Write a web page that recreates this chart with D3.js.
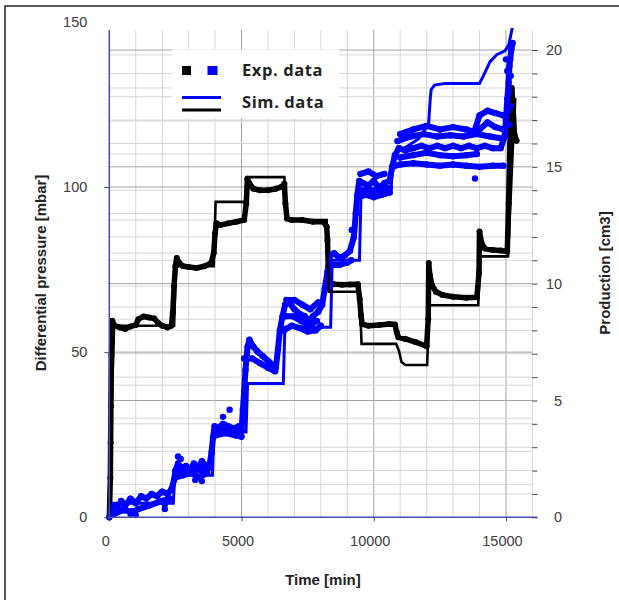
<!DOCTYPE html>
<html>
<head>
<meta charset="utf-8">
<script src="https://cdn.jsdelivr.net/npm/d3@7"></script>
<style>
  body { margin: 0; background: #fff; }
</style>
</head>
<body>
<div id="chart"></div>
<script>
// tick labels
const timeTicks = [0, 5000, 10000, 15000];
const pressureTicks = [0, 50, 100, 150];
const productionTicks = [0, 5, 10, 15, 20];

// simulated differential pressure [time, mbar]
const pressureSim = [
  [0, 0], [80, 30], [180, 58], [2450, 58], [2520, 76], [3950, 76], [4020, 95.5], [5150, 95.5],
  [5220, 103], [6620, 103], [6700, 90], [8220, 90], [8300, 68.3], [9460, 68.3], [9540, 52.5],
  [10850, 52.5], [10950, 50.5], [11050, 47], [11200, 46.1], [12020, 46.1], [12100, 64.2],
  [13950, 64.2], [14030, 79], [15080, 79], [15250, 110], [15350, 127]
];

// measured differential pressure [time, mbar]
const pressureExp = [
  [0, 0], [40, 12], [50, 22.6], [60, 33.7], [80, 49], [110, 59.5], [200, 58], [400, 57.5],
  [600, 57], [800, 57.8], [1000, 58.2], [1100, 60], [1300, 60.8], [1500, 60.5], [1700, 60.2],
  [1850, 58.8], [2000, 58], [2200, 57.5], [2350, 58], [2400, 62], [2450, 70], [2500, 76],
  [2550, 78.5], [2650, 77], [2800, 76], [3000, 75.8], [3300, 75.5], [3600, 76], [3850, 77],
  [3950, 80], [4000, 86], [4050, 89], [4200, 88.5], [4500, 89], [4800, 89.5], [5100, 90],
  [5180, 95], [5220, 102.5], [5300, 101], [5450, 99.5], [5700, 99], [6000, 99], [6300, 99.5],
  [6500, 100], [6620, 101], [6660, 95], [6720, 90.5], [6900, 90], [7300, 90], [7700, 89.5],
  [8100, 89.5], [8220, 88], [8250, 84], [8280, 76], [8320, 71], [8500, 70.6], [8800, 70.4],
  [9100, 70.5], [9400, 70.6], [9470, 66], [9520, 61], [9560, 58.5], [9800, 58], [10200, 58.2],
  [10600, 58.5], [10800, 58.4], [10870, 56], [10930, 54.5], [11200, 54], [11600, 53],
  [12000, 51.8], [12060, 60], [12080, 77], [12120, 73.4], [12200, 70.3], [12350, 68.3],
  [12600, 67.3], [13000, 66.8], [13500, 66.5], [13900, 66.6], [13980, 74], [14000, 86.5],
  [14080, 83], [14200, 81.4], [14500, 80.9], [14800, 80.8], [15050, 80.5], [15100, 95],
  [15150, 113], [15220, 130], [15270, 124], [15320, 116], [15400, 114]
];

// simulated production [time, cm3]
const productionSim = [
  [0, 0], [60, 0.3], [150, 0.6], [2420, 0.6], [2480, 1.8], [3900, 1.8], [3960, 3.65],
  [5170, 3.65], [5230, 5.73], [6580, 5.73], [6640, 8.13], [8370, 8.13], [8430, 11.0],
  [9460, 11.0], [9520, 13.87], [10650, 13.87], [10720, 15.3], [10900, 15.65], [11300, 15.9],
  [11700, 16.2], [12000, 16.7], [12080, 16.9], [12130, 17.8], [12170, 18.3], [12300, 18.5],
  [12700, 18.57], [14000, 18.57], [14150, 18.9], [14400, 19.5], [14650, 19.8], [14950, 19.95],
  [15100, 20.2], [15250, 21.0]
];

// measured production [time, cm3]
const productionExp = [
  [0, 0], [60, 0.3], [150, 0.5], [300, 0.4], [450, 0.7], [600, 0.5], [800, 0.8], [1000, 0.6],
  [1200, 0.9], [1400, 0.8], [1600, 1.0], [1800, 0.9], [2000, 1.1], [2200, 1.0], [2350, 1.2],
  [2450, 1.6], [2500, 2.0], [2600, 2.3], [2750, 2.1], [2900, 2.2], [3050, 2.0], [3200, 2.3],
  [3350, 2.1], [3500, 2.4], [3650, 2.2], [3800, 2.3], [3870, 2.8], [3920, 3.4], [3980, 3.9],
  [4100, 3.8], [4300, 4.0], [4500, 3.9], [4700, 3.8], [4900, 3.9], [5000, 3.7], [5050, 4.6],
  [5100, 5.4], [5150, 6.3], [5230, 7.3], [5300, 7.6], [5450, 7.3], [5600, 7.1], [5800, 6.9],
  [6000, 6.7], [6200, 6.5], [6300, 6.4], [6380, 7.2], [6450, 8.0], [6550, 8.6], [6650, 9.1],
  [6800, 9.2], [7000, 8.9], [7200, 8.7], [7400, 8.6], [7550, 8.4], [7700, 8.6], [7900, 8.8],
  [8050, 9.1], [8150, 9.8], [8250, 10.5], [8350, 11.2], [8500, 11.3], [8700, 11.1], [8900, 11.2],
  [9100, 11.4], [9250, 12.0], [9320, 13.0], [9380, 13.8], [9450, 14.4], [9600, 14.3], [9800, 14.2],
  [10000, 14.4], [10200, 14.1], [10400, 14.3], [10600, 14.4], [10700, 15.0], [10800, 15.5],
  [10950, 15.8], [11200, 15.7], [11500, 15.8], [11800, 15.9], [12100, 15.8], [12400, 15.9],
  [12700, 15.8], [13000, 15.9], [13300, 15.8], [13600, 15.9], [13900, 15.8], [14200, 15.9],
  [14500, 15.8], [14800, 15.8], [14950, 16.3], [15000, 17.0], [15050, 17.9], [15100, 18.6],
  [15130, 19.3], [15160, 19.6], [15200, 20.0], [15250, 20.3]
];

const productionExpLower = [
  [[200, 0.15], [500, 0.3], [900, 0.25], [1100, 0.35], [1500, 0.5], [2000, 0.7], [2300, 0.8]],
  [[2500, 1.7], [2800, 1.8], [3100, 1.9], [3400, 1.7], [3700, 1.9]],
  [[2550, 1.95], [2850, 2.0], [3150, 2.1], [3450, 2.0], [3750, 2.1]],
  [[4000, 3.5], [4400, 3.6], [4800, 3.5], [5000, 3.45]],
  [[4050, 3.65], [4450, 3.75], [4850, 3.7]],
  [[5100, 6.8], [5400, 6.8], [5700, 6.6], [6000, 6.4], [6270, 6.25]],
  [[6600, 8.0], [6900, 8.2], [7200, 8.1], [7500, 7.95], [7800, 8.0], [8000, 8.2]],
  [[6650, 8.6], [6950, 8.6], [7250, 8.4], [7550, 8.2], [7850, 8.4]],
  [[8400, 10.8], [8700, 10.8], [9000, 10.9], [9150, 11.0]],
  [[9400, 13.7], [9700, 13.8], [10000, 13.7], [10300, 13.8], [10600, 13.9]],
  [[9450, 14.0], [9750, 14.0], [10050, 14.0], [10350, 14.05], [10600, 14.1]],
  [[10700, 15.0], [11000, 15.1], [11500, 15.15], [12000, 15.1], [12500, 15.05], [13000, 15.1],
   [13500, 15.05], [14000, 15.0], [14500, 15.05], [14900, 15.05]],
  [[11000, 15.4], [11500, 15.5], [12000, 15.6], [12500, 15.5], [13000, 15.45], [13500, 15.5], [13900, 15.55]]
];

const productionExpUpper = [
  [[6700, 9.3], [7000, 9.3], [7300, 9.1], [7600, 8.9], [7900, 9.2]],
  [[9500, 14.7], [9800, 14.8], [10100, 14.6], [10400, 14.7]],
  [[10900, 16.1], [11400, 16.3], [11900, 16.4], [12400, 16.3], [12900, 16.35], [13400, 16.3],
   [13900, 16.4], [14400, 16.3], [14900, 16.2]],
  [[11000, 16.4], [11500, 16.6], [12000, 16.75], [12500, 16.6], [13000, 16.7], [13500, 16.6],
   [13800, 16.5], [14000, 17.2], [14300, 17.4], [14600, 17.3], [14900, 17.2]],
  [[14000, 16.6], [14300, 16.9], [14600, 16.7], [14900, 16.6]]
];

const productionExpScatter = [
  [800, 0.15], [1000, 0.1], [2100, 0.35], [2100, 0.55], [2600, 2.6], [2700, 2.5], [3250, 1.6],
  [3500, 1.55], [4300, 4.3], [4550, 4.6], [9170, 12.3], [13830, 14.5], [15000, 19.6],
  [15050, 19.1], [15080, 17.4], [15150, 16.8], [15200, 17.6], [15120, 18.2], [15180, 18.9]
];

const width = 619, height = 600;
const plotTop = 30, plotBottom = 517.3;
const minorGrid = "#d6d6d6", majorGrid = "#a3a3a3";
const axisBlue = "#4b4bb5";
const tickFont = "'Liberation Sans', Arial, sans-serif";

let svg = d3.select("#chart")
  .append("svg")
  .attr("width", width)
  .attr("height", height);

// outer frame (only left and top are visible)
svg.append("rect")
  .attr("x", 5).attr("y", 6)
  .attr("width", 700).attr("height", 700)
  .attr("fill", "none").attr("stroke", "#222").attr("stroke-width", 1.5);

// scales
let x = d3.scaleLinear().domain([0, 16000]).range([109.3, 532.4]);
let yL = d3.scaleLinear().domain([0, 150]).range([plotBottom, 21.9]);
let yR = d3.scaleLinear().domain([0, 20]).range([plotBottom, 50]);

// grid
let grid = svg.append("g");
let vLines = x.ticks(16).filter(d => d > 0).sort((a, b) => (a % 5000 === 0) - (b % 5000 === 0));
grid.selectAll(".vg").data(vLines).enter().append("line")
  .attr("x1", d => x(d)).attr("x2", d => x(d))
  .attr("y1", plotTop).attr("y2", plotBottom)
  .attr("stroke", d => d % 5000 === 0 ? majorGrid : minorGrid);

let hLeft = yL.ticks(15).filter(d => d > 0 && yL(d) >= plotTop).map(d => ({ y: yL(d), major: d % 50 === 0 }));
let hRight = yR.ticks(20).filter(d => d > 0).map(d => ({ y: yR(d), major: d % 5 === 0 }));
let hLines = hLeft.concat(hRight).sort((a, b) => a.major - b.major);
grid.selectAll(".hg").data(hLines).enter().append("line")
  .attr("x1", x(0)).attr("x2", x(16000))
  .attr("y1", d => d.y).attr("y2", d => d.y)
  .attr("stroke", d => d.major ? majorGrid : minorGrid);

// legend background covers the grid
svg.append("rect")
  .attr("x", 172).attr("y", 49.3)
  .attr("width", 167).attr("height", 69)
  .attr("fill", "#fff");

// clip data to plot area
svg.append("clipPath").attr("id", "clip")
  .append("rect").attr("x", x(0) - 3).attr("y", 28)
  .attr("width", x(16000) - x(0) + 3).attr("height", plotBottom - 28 + 4);

let dataG = svg.append("g").attr("clip-path", "url(#clip)");

let lineL = d3.line().x(d => x(d[0])).y(d => yL(d[1]));
let lineR = d3.line().x(d => x(d[0])).y(d => yR(d[1]));

// measured pressure (dense markers)
dataG.append("path").datum(pressureExp)
  .attr("d", lineL).attr("fill", "none")
  .attr("stroke", "#000").attr("stroke-width", 5.5)
  .attr("stroke-linejoin", "round").attr("stroke-linecap", "round");
dataG.selectAll(".pexp").data(pressureExp).enter().append("circle")
  .attr("cx", d => x(d[0])).attr("cy", d => yL(d[1])).attr("r", 3).attr("fill", "#000");

// measured production
let prodRuns = [productionExp].concat(productionExpLower, productionExpUpper);
dataG.selectAll(".prun").data(prodRuns).enter().append("path")
  .attr("d", lineR).attr("fill", "none")
  .attr("stroke", "#0000ff").attr("stroke-width", 6)
  .attr("stroke-linejoin", "round").attr("stroke-linecap", "round");
let prodPoints = prodRuns.flat().concat(productionExpScatter);
dataG.selectAll(".pdot").data(prodPoints).enter().append("circle")
  .attr("cx", d => x(d[0])).attr("cy", d => yR(d[1])).attr("r", 3.2).attr("fill", "#0000ff");

// simulated production
dataG.append("path").datum(productionSim)
  .attr("d", lineR).attr("fill", "none")
  .attr("stroke", "#0000ff").attr("stroke-width", 3);

// simulated pressure
dataG.append("path").datum(pressureSim)
  .attr("d", lineL).attr("fill", "none")
  .attr("stroke", "#000").attr("stroke-width", 2.6);

// left axis
let leftAxis = svg.append("g")
  .attr("transform", `translate(${x(0)},0)`)
  .call(d3.axisLeft(yL).tickValues(pressureTicks).tickSize(5).tickPadding(17));
leftAxis.select(".domain").remove();
leftAxis.selectAll("line").attr("stroke", "#444").filter(d => d === 150).remove();
leftAxis.selectAll("text").attr("fill", "#404040")
  .style("font-family", tickFont).style("font-size", "14.5px");

// right axis with minor ticks
let rightAxis = svg.append("g")
  .attr("transform", `translate(${x(16000)},0)`)
  .call(d3.axisRight(yR).tickValues(yR.ticks(20)).tickSize(5)
    .tickFormat(d => productionTicks.includes(d) ? d : ""));
rightAxis.select(".domain").remove();
rightAxis.selectAll("line").attr("stroke", "#444");
rightAxis.selectAll("text").attr("fill", "#404040")
  .style("font-family", tickFont).style("font-size", "14.5px")
  .attr("text-anchor", "end").attr("x", 29.8);

// bottom axis
let bottomAxis = svg.append("g")
  .attr("transform", `translate(0,${plotBottom})`)
  .call(d3.axisBottom(x).tickValues(timeTicks).tickSize(4).tickFormat(d3.format("d")));
bottomAxis.select(".domain").remove();
bottomAxis.selectAll("line").attr("stroke", "#444");
bottomAxis.selectAll("text").attr("fill", "#404040")
  .style("font-family", tickFont).style("font-size", "14.5px")
  .attr("dx", -4).attr("y", 18);

// axis lines
svg.append("line")
  .attr("x1", x(0)).attr("x2", x(0)).attr("y1", plotTop).attr("y2", plotBottom)
  .attr("stroke", axisBlue).attr("stroke-width", 1.5);
svg.append("line")
  .attr("x1", x(0)).attr("x2", x(16000) + 5).attr("y1", plotBottom).attr("y2", plotBottom)
  .attr("stroke", axisBlue).attr("stroke-width", 1.5);

// axis titles
svg.append("text")
  .attr("transform", "translate(46,273) rotate(-90)")
  .style("text-anchor", "middle").style("font-family", tickFont)
  .style("font-size", "15px").style("font-weight", "bold")
  .attr("fill", "#222")
  .text("Differential pressure [mbar]");
svg.append("text")
  .attr("transform", "translate(610,273) rotate(-90)")
  .style("text-anchor", "middle").style("font-family", tickFont)
  .style("font-size", "15px").style("font-weight", "bold")
  .attr("fill", "#222")
  .text("Production [cm3]");
svg.append("text")
  .attr("x", 323).attr("y", 585)
  .style("text-anchor", "middle").style("font-family", tickFont)
  .style("font-size", "15px").style("font-weight", "bold")
  .attr("fill", "#222")
  .text("Time [min]");

// legend
let legend = svg.append("g");
legend.append("rect").attr("x", 182).attr("y", 66).attr("width", 9).attr("height", 9).attr("fill", "#000");
legend.append("rect").attr("x", 207.5).attr("y", 66).attr("width", 10).attr("height", 9).attr("fill", "#0000ff");
legend.append("line").attr("x1", 182).attr("x2", 221).attr("y1", 97.5).attr("y2", 97.5)
  .attr("stroke", "#0000ff").attr("stroke-width", 3);
legend.append("line").attr("x1", 182).attr("x2", 221).attr("y1", 110).attr("y2", 110)
  .attr("stroke", "#000").attr("stroke-width", 3);
legend.append("text").attr("x", 242).attr("y", 76)
  .style("font-family", "'Open Sans', sans-serif").style("font-size", "16.5px").style("font-weight", "bold")
  .style("letter-spacing", "0.6px")
  .attr("fill", "#222").text("Exp. data");
legend.append("text").attr("x", 242).attr("y", 108)
  .style("font-family", "'Open Sans', sans-serif").style("font-size", "16.5px").style("font-weight", "bold")
  .style("letter-spacing", "0.6px")
  .attr("fill", "#222").text("Sim. data");
</script>
</body>
</html>
